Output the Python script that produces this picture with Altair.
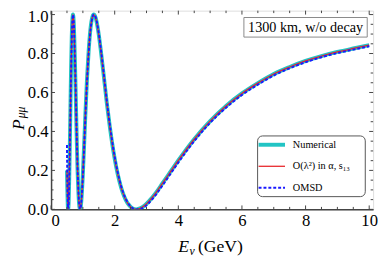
import altair as alt
import pandas as pd

# ---- data ----
E_GeV = [0.50, 0.51, 0.52, 0.53, 0.54, 0.55, 0.57, 0.59, 0.61, 0.63, 0.65, 0.67, 0.69,
         0.71, 0.73, 0.75, 0.77, 0.79, 0.81, 0.83, 0.85, 0.87, 0.89, 0.91,
         0.93, 0.96, 1.00, 1.04, 1.08, 1.13, 1.18, 1.24, 1.30, 1.34,
         1.40, 1.48, 1.56, 1.65, 1.75, 1.85, 1.95, 2.05, 2.15, 2.25, 2.35, 2.45, 2.55, 2.68,
         2.80, 2.95, 3.10, 3.30, 3.50, 3.75, 4.00,
         4.50, 5.00, 5.50, 6.00, 6.50, 7.00, 7.50, 8.00, 8.50, 9.00, 9.50, 10.00]

P_numerical = [0.20, 0.113, 0.049, 0.008, 0.002, 0.026, 0.150, 0.335, 0.536, 0.734, 0.884, 0.973, 1.000,
               0.967, 0.882, 0.762, 0.624, 0.483, 0.339, 0.213, 0.124, 0.052, 0.014, 0.000,
               0.010, 0.063, 0.183, 0.334, 0.493, 0.671, 0.810, 0.929, 0.989, 1.000,
               0.984, 0.918, 0.821, 0.695, 0.549, 0.420, 0.308, 0.216, 0.143, 0.087, 0.048, 0.022, 0.006, 0.000,
               0.005, 0.021, 0.046, 0.086, 0.133, 0.192, 0.251,
               0.360, 0.453, 0.531, 0.595, 0.648, 0.695, 0.731, 0.762, 0.787, 0.808, 0.826, 0.843]

P_approx = [0.20, 0.113, 0.049, 0.008, 0.002, 0.026, 0.150, 0.335, 0.536, 0.734, 0.884, 0.973, 1.000,
            0.967, 0.882, 0.762, 0.624, 0.483, 0.339, 0.213, 0.124, 0.052, 0.014, 0.000,
            0.010, 0.063, 0.183, 0.334, 0.493, 0.671, 0.810, 0.929, 0.989, 1.000,
            0.984, 0.918, 0.821, 0.695, 0.549, 0.420, 0.308, 0.216, 0.143, 0.087, 0.048, 0.022, 0.006, 0.000,
            0.005, 0.021, 0.046, 0.086, 0.133, 0.192, 0.251,
            0.360, 0.453, 0.531, 0.595, 0.648, 0.695, 0.731, 0.762, 0.787, 0.808, 0.826, 0.843]

P_omsd = [0.33, 0.17, 0.075, 0.020, 0.001, 0.015, 0.130, 0.310, 0.510, 0.712, 0.868, 0.966, 0.999,
          0.972, 0.892, 0.775, 0.640, 0.500, 0.356, 0.228, 0.136, 0.060, 0.018, 0.001,
          0.007, 0.055, 0.170, 0.320, 0.478, 0.657, 0.799, 0.922, 0.986, 1.000,
          0.987, 0.925, 0.830, 0.706, 0.561, 0.432, 0.319, 0.226, 0.152, 0.094, 0.053, 0.025, 0.008, 0.000,
          0.002, 0.014, 0.037, 0.076, 0.122, 0.181, 0.240,
          0.350, 0.444, 0.522, 0.587, 0.640, 0.687, 0.724, 0.755, 0.781, 0.802, 0.820, 0.837]

series_names = ["Numerical", "O(λ²) in α, s₁₃", "OMSD"]
series_colors = ["#22c4c4", "#e8262b", "#1a1aff"]

x_major = [0, 2, 4, 6, 8, 10]
x_minor = [0.5, 1, 1.5, 2.5, 3, 3.5, 4.5, 5, 5.5, 6.5, 7, 7.5, 8.5, 9, 9.5]
y_major = [0.0, 0.2, 0.4, 0.6, 0.8, 1.0]
y_minor = [0.05, 0.1, 0.15, 0.25, 0.3, 0.35, 0.45, 0.5, 0.55, 0.65, 0.7, 0.75, 0.85, 0.9, 0.95]

annotation = "1300 km, w/o decay"

# ---- layout ----
W, H = 329, 203
XDOM = [0, 10.123]
YDOM = [0, 1.0201]
FONT = "Liberation Serif"

xs = alt.Scale(domain=XDOM, nice=False, zero=False)
ys = alt.Scale(domain=YDOM, nice=False, zero=False)

frames = []
for name, vals in zip(series_names, [P_numerical, P_approx, P_omsd]):
    frames.append(pd.DataFrame({"series": name, "E": E_GeV, "P": vals}))
df = pd.concat(frames, ignore_index=True)

one = pd.DataFrame({"a": [0]})

x_axis = alt.Axis(values=x_major, format="d", ticks=False, grid=False, title=None,
                  labelFont=FONT, labelFontSize=17, labelColor="black", labelPadding=3,
                  domainColor="#444", domainWidth=1.5)
y_axis = alt.Axis(values=y_major, format=".1f", ticks=False, grid=False, title=None,
                  labelFont=FONT, labelFontSize=17, labelColor="black", labelPadding=3,
                  labelOffset={"condition": {"test": "datum.value >= 0.99", "value": 2.5}, "value": 0},
                  domainColor="#444", domainWidth=1.5)

X = lambda: alt.X("E:Q", scale=xs, axis=x_axis, title=None)
Y = lambda: alt.Y("P:Q", scale=ys, axis=y_axis, title=None)


def curve(name, color, width, dash):
    kw = dict(color=color, strokeWidth=width, interpolate="monotone", clip=True)
    if dash:
        kw["strokeDash"] = dash
    return alt.Chart(df[df.series == name]).mark_line(**kw).encode(
        x=X(), y=Y(), order="E:Q")


l_num = curve(series_names[0], series_colors[0], 4, None)
l_app = curve(series_names[1], series_colors[1], 1.3, None)
l_oms = curve(series_names[2], series_colors[2], 2, [3, 2])


# inward frame ticks
def xticks(vals, length):
    d = pd.DataFrame({"E": vals})
    b = alt.Chart(d).mark_rule(color="#444", strokeWidth=1).encode(
        x=X(), y=alt.value(H), y2=alt.value(H - length))
    t = alt.Chart(d).mark_rule(color="#444", strokeWidth=1).encode(
        x=X(), y=alt.value(0), y2=alt.value(length))
    return [b, t]


def yticks(vals, length):
    d = pd.DataFrame({"P": vals})
    l = alt.Chart(d).mark_rule(color="#444", strokeWidth=1).encode(
        y=Y(), x=alt.value(0), x2=alt.value(length))
    r = alt.Chart(d).mark_rule(color="#444", strokeWidth=1).encode(
        y=Y(), x=alt.value(W), x2=alt.value(W - length))
    return [l, r]


tick_layers = xticks(x_major, 4) + xticks(x_minor, 2.5) + yticks(y_major, 4) + yticks(y_minor, 2.5)

# axis titles
x_t1 = alt.Chart(one).mark_text(text="E", font=FONT, fontSize=18, fontStyle="italic",
                                align="left", baseline="alphabetic", color="black").encode(
    x=alt.value(130), y=alt.value(247))
x_t2 = alt.Chart(one).mark_text(text="ν", font=FONT, fontSize=12, fontStyle="italic",
                                align="left", baseline="alphabetic", color="black").encode(
    x=alt.value(141.5), y=alt.value(250))
x_t3 = alt.Chart(one).mark_text(text="(GeV)", font=FONT, fontSize=18,
                                align="left", baseline="alphabetic", color="black").encode(
    x=alt.value(150), y=alt.value(247))
y_t1 = alt.Chart(one).mark_text(text="P", font=FONT, fontSize=18, fontStyle="italic", angle=270,
                                align="left", baseline="alphabetic", color="black").encode(
    x=alt.value(-28), y=alt.value(122))
y_t2 = alt.Chart(one).mark_text(text="μμ", font=FONT, fontSize=12, fontStyle="italic", angle=270,
                                align="left", baseline="alphabetic", color="black").encode(
    x=alt.value(-26.5), y=alt.value(110))

# annotation box
ann_box = alt.Chart(one).mark_rect(fill="white", stroke="#888", strokeWidth=1).encode(
    x=alt.value(197), x2=alt.value(323), y=alt.value(7), y2=alt.value(27))
ann_txt = alt.Chart(one).mark_text(text=annotation, font=FONT, fontSize=14.5, color="black",
                                   align="center", baseline="middle").encode(
    x=alt.value(260), y=alt.value(17.5))

# legend
leg_box = alt.Chart(one).mark_rect(fill="white", stroke="#555", strokeWidth=1, cornerRadius=5).encode(
    x=alt.value(211), x2=alt.value(321), y=alt.value(128), y2=alt.value(190))
leg_layers = [leg_box]
leg_rows = [137, 159, 181]
leg_widths = [4, 1.3, 2]
leg_dash = [None, None, [3, 2]]
for name, col, yy, wd, ds in zip(series_names, series_colors, leg_rows, leg_widths, leg_dash):
    kw = dict(color=col, strokeWidth=wd)
    if ds:
        kw["strokeDash"] = ds
    leg_layers.append(alt.Chart(one).mark_rule(**kw).encode(
        x=alt.value(212), x2=alt.value(239), y=alt.value(yy)))
    leg_layers.append(alt.Chart(one).mark_text(text=name, font=FONT, fontSize=10.5, color="black",
                                               align="left", baseline="middle").encode(
        x=alt.value(247), y=alt.value(yy)))

chart = alt.layer(
    l_num, l_app, l_oms, *tick_layers, x_t1, x_t2, x_t3, y_t1, y_t2,
    ann_box, ann_txt, *leg_layers
).properties(
    width=W, height=H,
    padding={"left": 44, "top": 0, "right": 5, "bottom": 48},
    autosize=alt.AutoSizeParams(type="none"),
).configure_view(stroke="#777", strokeWidth=1).configure(background="white")

chart.save("out.html", embed_options={"renderer": "svg", "actions": False})
